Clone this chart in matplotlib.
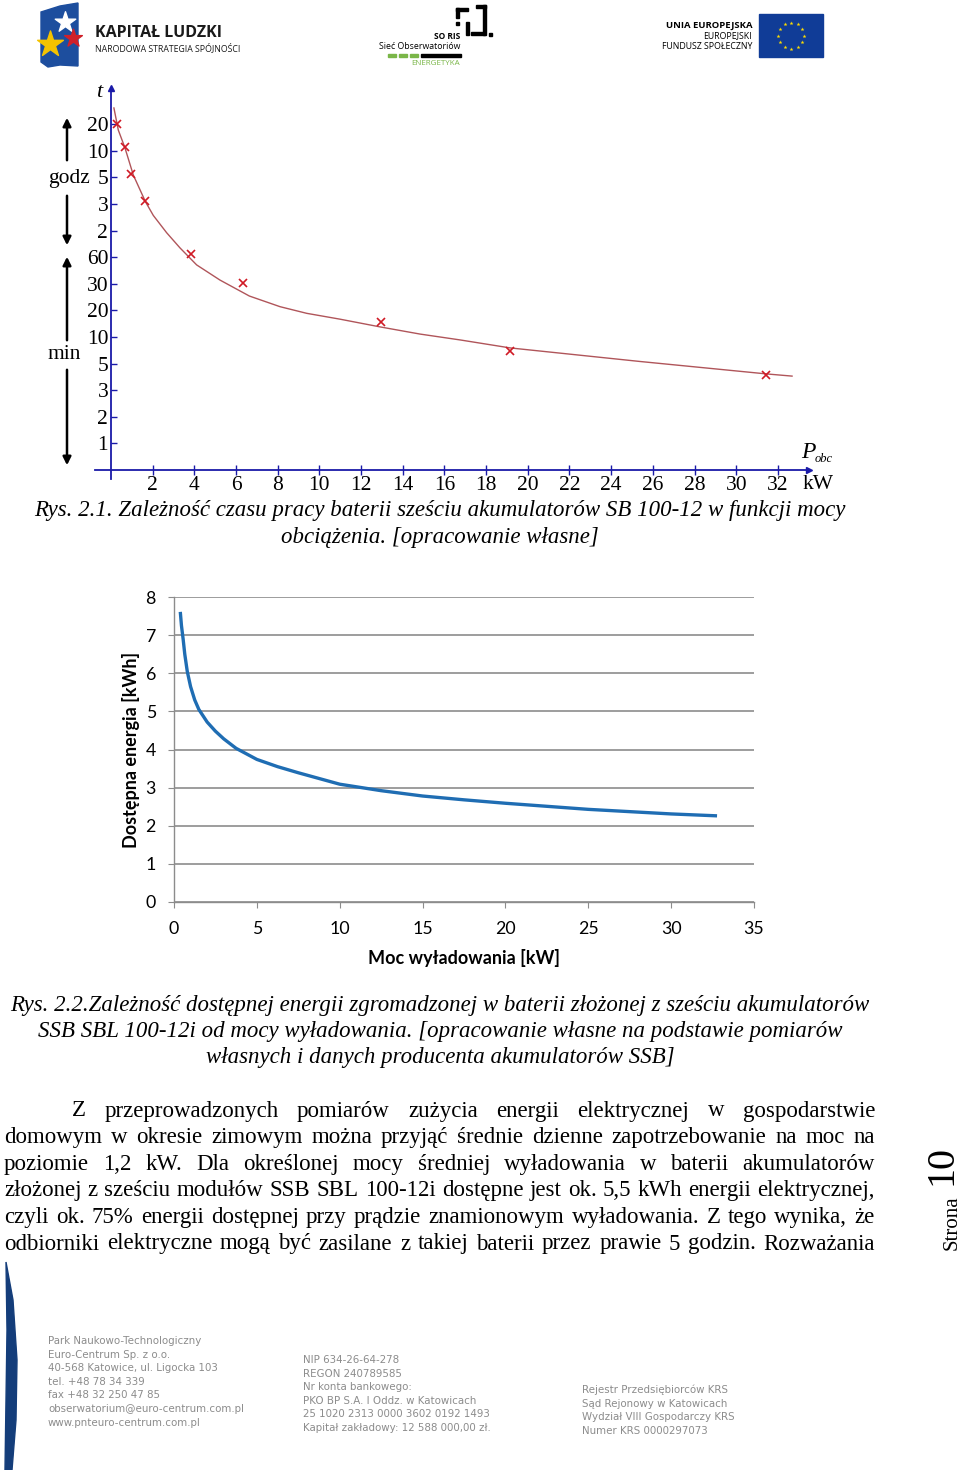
import numpy as np
import matplotlib
matplotlib.use("Agg")
import matplotlib.pyplot as plt
from matplotlib.patches import Polygon, Rectangle

# --- chart 1: operating time vs load (x in kW, y as tick index on the custom t-scale)
t_labels = ["1", "2", "3", "5", "10", "20", "30", "60", "2", "3", "5", "10", "20"]
x_ticks1 = [2, 4, 6, 8, 10, 12, 14, 16, 18, 20, 22, 24, 26, 28, 30, 32]
meas_p = [0.29, 0.67, 0.96, 1.63, 3.84, 6.33, 12.96, 19.15, 31.43]
meas_t = [13.0, 12.14, 11.13, 10.11, 8.12, 7.03, 5.56, 4.47, 3.57]
fit_p = [0.14, 0.35, 0.67, 1.07, 1.65, 2.03, 2.67, 3.31, 4.11, 5.23, 6.64, 8.11, 9.39,
         10.99, 12.91, 14.83, 16.75, 19.15, 25.38, 31.48, 32.68]
fit_t = [13.61, 12.78, 12.11, 11.09, 10.09, 9.57, 8.92, 8.35, 7.71, 7.14, 6.54, 6.14, 5.89,
         5.67, 5.38, 5.11, 4.89, 4.59, 4.08, 3.61, 3.53]

# --- chart 2: available energy vs discharge power
power = [0.38, 0.45, 0.55, 0.65, 0.8, 1.0, 1.25, 1.5, 2.0, 2.5, 3.0, 3.75, 5.0, 6.25, 7.5,
         10.0, 12.5, 15.0, 17.5, 20.0, 22.5, 25.0, 27.5, 30.0, 32.77]
energy = [7.61, 7.25, 6.9, 6.5, 6.05, 5.65, 5.3, 5.05, 4.72, 4.48, 4.28, 4.03, 3.74, 3.55, 3.39,
          3.09, 2.92, 2.78, 2.68, 2.59, 2.51, 2.43, 2.37, 2.31, 2.26]

W, H = 960, 1470
fig = plt.figure(figsize=(9.6, 14.7), dpi=100)
fig.patch.set_facecolor("white")

page = fig.add_axes([0, 0, 1, 1])
page.set_xlim(0, W)
page.set_ylim(H, 0)
page.axis("off")

SERIF = "Liberation Serif"
GRAY = "#8c8c8c"
FS = 16.5

# ---------------- header logos ----------------
page.add_patch(Polygon([(41, 12), (60, 6), (78, 3), (78, 66), (60, 65), (48, 67), (41, 62)],
                       closed=True, color="#1d4e9e"))
page.scatter([65], [22], marker="*", s=240, color="white", zorder=3)
page.scatter([73], [38], marker="*", s=180, color="#d0202a", zorder=3)
page.scatter([50], [44], marker="*", s=380, color="#f4c300", zorder=3)
page.text(95, 33, "KAPITAŁ LUDZKI", fontsize=11.5, fontweight="bold", color="#1a1a1a",
          va="center", family="Open Sans")
page.text(95, 48, "NARODOWA STRATEGIA SPÓJNOŚCI", fontsize=6.3, color="#1a1a1a",
          va="center", family="Open Sans")

# SO RIS
for x0, y0, w, h in [(456, 8, 3, 10), (456, 8, 12, 3), (476, 5, 10, 3), (483, 5, 3, 30),
                     (471, 32, 14, 3), (466, 22, 3, 13), (456, 22, 3, 3), (489, 33, 3, 3)]:
    page.add_patch(Rectangle((x0, y0), w, h, color="black"))
page.text(460, 36, "SO RIS", fontsize=6, fontweight="bold", ha="right", va="center", family="Open Sans")
page.text(460, 46, "Sieć Obserwatoriów", fontsize=6.3, ha="right", va="center", family="Open Sans")
for x0 in (388, 399, 410):
    page.add_patch(Rectangle((x0, 54), 8, 2.5, color="#7ab648"))
page.add_patch(Rectangle((421, 54), 40, 2.5, color="black"))
page.text(460, 63, "ENERGETYKA", fontsize=5.8, color="#7ab648", ha="right", va="center", family="Open Sans")

# EU
page.text(752, 25, "UNIA EUROPEJSKA", fontsize=6.8, fontweight="bold", ha="right", va="center", family="Open Sans")
page.text(752, 36, "EUROPEJSKI", fontsize=6.3, ha="right", va="center", family="Open Sans")
page.text(752, 46, "FUNDUSZ SPOŁECZNY", fontsize=6.3, ha="right", va="center", family="Open Sans")
page.add_patch(Rectangle((759, 14), 64, 43, color="#103c97"))
ang = np.arange(12) * np.pi / 6
page.scatter(791 + 13 * np.cos(ang), 35.5 + 13 * np.sin(ang), marker="*", s=9, color="#ffde00",
             linewidths=0, zorder=3)

# ---------------- chart 1 ----------------
def px_to_fig(x0, y0, x1, y1):
    return [x0 / W, 1 - y1 / H, (x1 - x0) / W, (y1 - y0) / H]

# x=0 at px 111, 20.84 px per kW ; y=0 at px 470, 26.6 px per step
ax1 = fig.add_axes(px_to_fig(90, 80, 830, 480))
ax1.set_xlim((90 - 111) / 20.84, (830 - 111) / 20.84)
ax1.set_ylim((470 - 480) / 26.6, (470 - 80) / 26.6)
ax1.patch.set_alpha(0)
blue = "#1a1aa8"
for s in ("top", "right"):
    ax1.spines[s].set_visible(False)
ax1.spines["left"].set_position(("data", 0))
ax1.spines["bottom"].set_position(("data", 0))
ax1.spines["left"].set_bounds(-0.35, 14.35)
ax1.spines["bottom"].set_bounds(-0.75, 33.5)
for s in ("left", "bottom"):
    ax1.spines[s].set_color(blue)
    ax1.spines[s].set_linewidth(1.3)
ax1.plot([33.5], [0], marker=">", color=blue, ms=5, clip_on=False)
ax1.plot([0], [14.35], marker="^", color=blue, ms=5, clip_on=False)
ax1.set_xticks(x_ticks1)
ax1.set_xticklabels([str(v) for v in x_ticks1])
ax1.set_yticks(range(1, len(t_labels) + 1))
ax1.set_yticklabels(t_labels)
ax1.tick_params(axis="x", direction="inout", length=7, width=1, color=blue, pad=1, labelsize=15.5)
ax1.tick_params(axis="y", direction="in", length=4, width=1, color=blue, pad=2, labelsize=15.5)
for lab in ax1.get_xticklabels() + ax1.get_yticklabels():
    lab.set_family(SERIF)

ax1.plot(fit_p, fit_t, color="#b0555a", lw=1.0)
ax1.plot(meas_p, meas_t, ls="none", marker="x", ms=5.5, mew=1.2, color="#d01a25")

ax1.text(-0.55, 14.2, "t", fontsize=16, style="italic", family=SERIF, va="center", ha="center")
ax1.text(33.1, 0.65, "P", fontsize=17, style="italic", family=SERIF, va="center", ha="left")
ax1.text(33.75, 0.42, "obc", fontsize=9, style="italic", family=SERIF, va="center", ha="left")
ax1.text(33.2, -0.55, "kW", fontsize=15.5, family=SERIF, va="center", ha="left")

# godz / min brackets
page.text(69, 178, "godz", fontsize=15.5, family=SERIF, ha="center", va="center")
page.text(64, 354, "min", fontsize=15.5, family=SERIF, ha="center", va="center")
arrow = dict(arrowstyle="-|>", color="black", lw=1.8, mutation_scale=12)
page.annotate("", xy=(67, 115), xytext=(67, 163), arrowprops=arrow)
page.annotate("", xy=(67, 248), xytext=(67, 193), arrowprops=arrow)
page.annotate("", xy=(67, 254), xytext=(67, 343), arrowprops=arrow)
page.annotate("", xy=(67, 468), xytext=(67, 367), arrowprops=arrow)

page.text(440, 510, "Rys. 2.1. Zależność czasu pracy baterii sześciu akumulatorów SB 100-12 w funkcji mocy",
          fontsize=FS, style="italic", family=SERIF, ha="center", va="center")
page.text(440, 537, "obciążenia. [opracowanie własne]",
          fontsize=FS, style="italic", family=SERIF, ha="center", va="center")

# ---------------- chart 2 ----------------
CAL = "Lato"
ax2 = fig.add_axes(px_to_fig(174, 597, 754, 902))
ax2.set_xlim(0, 35)
ax2.set_ylim(0, 8)
ax2.set_xticks(range(0, 36, 5))
ax2.set_yticks(range(0, 9))
ax2.grid(axis="y", color="#8c8c8c", lw=1.2)
ax2.set_axisbelow(True)
for s in ("top", "right"):
    ax2.spines[s].set_visible(False)
for s in ("left", "bottom"):
    ax2.spines[s].set_color("#8c8c8c")
    ax2.spines[s].set_linewidth(1.0)
ax2.tick_params(axis="both", direction="out", length=4, color="#8c8c8c", labelsize=12.8)
ax2.tick_params(axis="x", pad=10)
ax2.tick_params(axis="y", pad=9)
for lab in ax2.get_xticklabels() + ax2.get_yticklabels():
    lab.set_family(CAL)
ax2.plot(power, energy, color="#1f6db3", lw=2.4, solid_capstyle="butt")
ax2.set_xlabel("Moc wyładowania [kW]", fontsize=13, fontweight="bold", family=CAL, labelpad=8)
ax2.set_ylabel("Dostępna energia [kWh]", fontsize=13, fontweight="bold", family=CAL, labelpad=4)

page.text(440, 1005, "Rys. 2.2.Zależność dostępnej energii zgromadzonej w baterii złożonej z sześciu akumulatorów",
          fontsize=FS, style="italic", family=SERIF, ha="center", va="center")
page.text(440, 1031, "SSB SBL 100-12i od mocy wyładowania. [opracowanie własne na podstawie pomiarów",
          fontsize=FS, style="italic", family=SERIF, ha="center", va="center")
page.text(440, 1058, "własnych i danych producenta akumulatorów SSB]",
          fontsize=FS, style="italic", family=SERIF, ha="center", va="center")

# ---------------- justified body text ----------------
body = [
    (72, "Z przeprowadzonych pomiarów zużycia energii elektrycznej w gospodarstwie"),
    (4, "domowym w okresie zimowym można przyjąć średnie dzienne zapotrzebowanie na moc na"),
    (4, "poziomie 1,2 kW. Dla określonej mocy średniej wyładowania w baterii akumulatorów"),
    (4, "złożonej z sześciu modułów SSB SBL 100-12i dostępne jest ok. 5,5 kWh energii elektrycznej,"),
    (4, "czyli ok. 75% energii dostępnej przy prądzie znamionowym wyładowania. Z tego wynika, że"),
    (4, "odbiorniki elektryczne mogą być zasilane z takiej baterii przez prawie 5 godzin. Rozważania"),
]
renderer = fig.canvas.get_renderer()
right_px = 875
for i, (left_px, line) in enumerate(body):
    y = 1111 + i * 26.6
    words = line.split()
    texts = [page.text(0, y, w, fontsize=FS, family=SERIF, va="center", ha="left") for w in words]
    widths = [t.get_window_extent(renderer).width for t in texts]
    gap = (right_px - left_px - sum(widths)) / (len(words) - 1)
    x = left_px
    for t, w in zip(texts, widths):
        t.set_x(x)
        x += w + gap

# page number
page.text(952, 1223, "Strona", fontsize=15, family=SERIF, rotation=90, ha="center", va="center")
page.text(942, 1165, "10", fontsize=29, family=SERIF, rotation=90, ha="center", va="center")

# blue swoosh
page.add_patch(Polygon([(6, 1262), (13, 1300), (17, 1360), (16, 1420), (12, 1470),
                        (5, 1470), (6, 1400), (7, 1330)], closed=True, color="#143d7a"))

# ---------------- footer ----------------
col1 = ["Park Naukowo-Technologiczny", "Euro-Centrum Sp. z o.o.", "40-568 Katowice, ul. Ligocka 103",
        "tel. +48 78 34 339", "fax +48 32 250 47 85", "obserwatorium@euro-centrum.com.pl",
        "www.pnteuro-centrum.com.pl"]
col2 = ["NIP 634-26-64-278", "REGON 240789585", "Nr konta bankowego:", "PKO BP S.A. I Oddz. w Katowicach",
        "25 1020 2313 0000 3602 0192 1493", "Kapitał zakładowy: 12 588 000,00 zł."]
col3 = ["Rejestr Przedsiębiorców KRS", "Sąd Rejonowy w Katowicach", "Wydział VIII Gospodarczy KRS",
        "Numer KRS 0000297073"]
for x0, y0, col in [(48, 1341, col1), (303, 1360, col2), (582, 1390, col3)]:
    for j, s in enumerate(col):
        page.text(x0, y0 + j * 13.6, s, fontsize=7.4, color=GRAY, family="DejaVu Sans", va="center")

fig.savefig("out.png", dpi=100)
